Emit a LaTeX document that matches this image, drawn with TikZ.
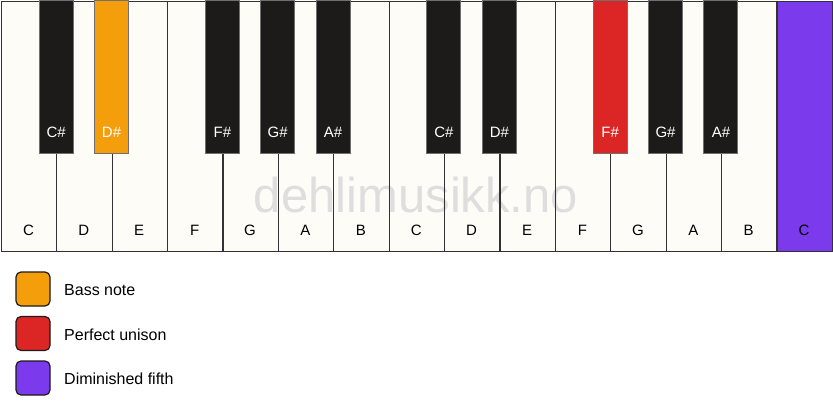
\documentclass[tikz,border=0pt]{standalone}
\usepackage{fontspec}
\setmainfont{Liberation Sans}
\definecolor{wkey}{RGB}{254,252,247}
\definecolor{bkey}{RGB}{28,27,26}
\definecolor{keyline}{RGB}{50,50,50}
\definecolor{bassc}{RGB}{245,158,11}
\definecolor{unisc}{RGB}{220,38,38}
\definecolor{dimc}{RGB}{124,58,237}
\definecolor{wmark}{RGB}{222,222,222}
\tikzset{
  whitekey/.style={draw=keyline, line width=1.3pt, fill=wkey, minimum width=55.4pt, minimum height=250pt, inner sep=0pt, anchor=north west},
  keyframe/.style={draw=keyline, line width=1.3pt, minimum width=55.4pt, minimum height=250pt, inner sep=0pt, anchor=north west},
  blackkey/.style={draw=keyline!70, line width=1pt, fill=bkey, minimum width=34pt, minimum height=153pt, inner sep=0pt, anchor=north},
  wlabel/.style={font=\fontsize{15}{17}\selectfont, text=black},
  blabel/.style={font=\fontsize{15}{17}\selectfont, text=white},
  legbox/.style={draw=bkey, line width=1.2pt, rounded corners=5pt, minimum width=34pt, minimum height=34pt, inner sep=0pt},
  legtext/.style={font=\fontsize{16}{18}\selectfont, anchor=west, inner sep=0pt}
}
\begin{document}
\begin{tikzpicture}[x=1pt,y=-1pt]
\useasboundingbox (0,0) rectangle (833,417);
\fill[white] (0,0) rectangle (833,417);
% white keys
\foreach \n [count=\i from 0] in {C,D,E,F,G,A,B,C2,D2,E2,F2,G2,A2,B2} {
  \node[whitekey] (w\n) at ({0.75+55.4*\i},0.75) {};
}
\node[whitekey, fill=dimc] (wC3) at ({0.75+55.4*14},0.75) {};
% watermark (behind the key outlines)
\node[text=wmark, font=\fontsize{49}{52}\selectfont, anchor=base, inner sep=0pt] (wm) at (416,212) {dehlimusikk.no};
\foreach \n [count=\i from 0] in {C,D,E,F,G,A,B,C2,D2,E2,F2,G2,A2,B2,C3} {
  \node[keyframe] (f\n) at ({0.75+55.4*\i},0.75) {};
}
\foreach \n/\lab [count=\i from 0] in {C/C,D/D,E/E,F/F,G/G,A/A,B/B,C2/C,D2/D,E2/E,F2/F,G2/G,A2/A,B2/B,C3/C} {
  \node[wlabel] (lw\n) at ({0.75+55.4*\i+27.7},230) {\lab};
}
% black keys
\foreach \n/\b in {Cs/1,Fs/4,Gs/5,As/6,Cs2/8,Ds2/9,Gs2/12,As2/13} {
  \node[blackkey] (b\n) at ({0.75+55.4*\b},0) {};
}
\node[blackkey, fill=bassc] (bDs) at ({0.75+55.4*2},0) {};
\node[blackkey, fill=unisc] (bFs2) at ({0.75+55.4*11},0) {};
\foreach \n/\lab/\b in {Cs/C\#/1,Ds/D\#/2,Fs/F\#/4,Gs/G\#/5,As/A\#/6,Cs2/C\#/8,Ds2/D\#/9,Fs2/F\#/11,Gs2/G\#/12,As2/A\#/13} {
  \node[blabel] (lb\n) at ({0.75+55.4*\b},132) {\lab};
}
% legend
\node[legbox, fill=bassc] (l1) at (33,289) {};
\node[legbox, fill=unisc] (l2) at (33,333.5) {};
\node[legbox, fill=dimc] (l3) at (33,378) {};
\node[legtext] (t1) at (64,290) {Bass note};
\node[legtext] (t2) at (64,334.5) {Perfect unison};
\node[legtext] (t3) at (64,379) {Diminished fifth};
\end{tikzpicture}
\end{document}
